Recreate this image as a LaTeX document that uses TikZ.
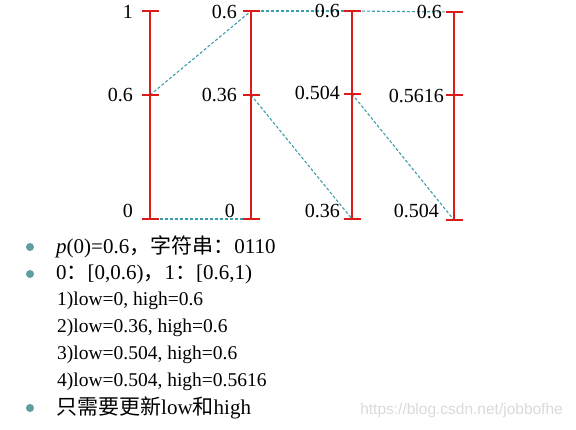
\documentclass[tikz,border=0pt]{standalone}
\usepackage{fontspec}
\setmainfont{Liberation Serif}
\newfontfamily\cjk{Noto Sans CJK SC}
\newfontfamily\wmfont{Liberation Sans}
\definecolor{barred}{HTML}{DD1A1A}
\definecolor{dashteal}{HTML}{3A9FA8}
\definecolor{bulletc}{HTML}{5E9EA0}
\definecolor{wmgray}{HTML}{DADADA}
\tikzset{
  bar/.style={draw=barred, line width=2.6pt},
  tick/.style={draw=barred, line width=2.2pt},
  link/.style={draw=dashteal, line width=1.1pt, dash pattern=on 3pt off 2pt},
  lab/.style={anchor=east, inner sep=0pt, font=\fontsize{20}{22}\selectfont},
  txt/.style={anchor=west, inner sep=0pt, font=\fontsize{21}{23}\selectfont},
  subtxt/.style={anchor=west, inner sep=0pt, font=\fontsize{19.5}{21}\selectfont},
  dot/.style={circle, fill=bulletc, inner sep=0pt, minimum size=8pt}
}
\begin{document}
\begin{tikzpicture}[x=1pt,y=-1pt]
\useasboundingbox (0,0) rectangle (576,429);
% bar coordinates
\coordinate (b1t) at (150,11);  \coordinate (b1m) at (150,95);  \coordinate (b1b) at (150,219);
\coordinate (b2t) at (251,11);  \coordinate (b2m) at (251,95);  \coordinate (b2b) at (251,219);
\coordinate (b3t) at (352,11);  \coordinate (b3m) at (352,94);  \coordinate (b3b) at (352,219);
\coordinate (b4t) at (454,12);  \coordinate (b4m) at (454,95);  \coordinate (b4b) at (454,220);
% dashed links (behind)
\draw[link] (b1m) -- (b2t);
\draw[link] (b1b) -- (b2b);
\draw[link] (b2t) -- (b3t);
\draw[link] (b3t) -- (b4t);
\draw[link] (b2m) -- (b3b);
\draw[link] (b3m) -- (b4b);
% bars and ticks
\foreach \b in {b1,b2,b3,b4}{
  \draw[bar] (\b t) -- (\b b);
  \foreach \p in {t,m,b}{
    \draw[tick] ([xshift=-8.5pt]\b\p) -- ([xshift=8.5pt]\b\p);
  }
}
% labels
\node[lab] (l1t) at (133,12) {1};
\node[lab] (l1m) at (133,95) {0.6};
\node[lab] (l1b) at (133,211) {0};
\node[lab] (l2t) at (237,12) {0.6};
\node[lab] (l2m) at (237,95) {0.36};
\node[lab] (l2b) at (235,211) {0};
\node[lab] (l3t) at (340,11) {0.6};
\node[lab] (l3m) at (340,93) {0.504};
\node[lab] (l3b) at (340,211) {0.36};
\node[lab] (l4t) at (442,12) {0.6};
\node[lab] (l4m) at (444,96) {0.5616};
\node[lab] (l4b) at (439,211) {0.504};
% bullet text
\node[dot] (d1) at (30,247) {};
\node[txt] (t1) at (56,247) {\textit{p}(0)=0.6{\cjk，字符串：}0110};
\node[dot] (d2) at (30,274) {};
\node[txt] (t2) at (56,274) {0{\cjk：}[0,0.6){\cjk，}1{\cjk：}[0.6,1)};
\node[subtxt] (t3) at (57,301) {1)low=0, high=0.6};
\node[subtxt] (t4) at (57,328) {2)low=0.36, high=0.6};
\node[subtxt] (t5) at (57,355) {3)low=0.504, high=0.6};
\node[subtxt] (t6) at (57,382) {4)low=0.504, high=0.5616};
\node[dot] (d3) at (30,408) {};
\node[txt] (t7) at (56,408) {{\cjk 只需要更新}low{\cjk 和}high};
% watermark
\node[anchor=east, inner sep=0pt, text=wmgray, font=\wmfont\fontsize{15.5}{17}\selectfont] (wm) at (563,410) {https://blog.csdn.net/jobbofhe};
\end{tikzpicture}
\end{document}
